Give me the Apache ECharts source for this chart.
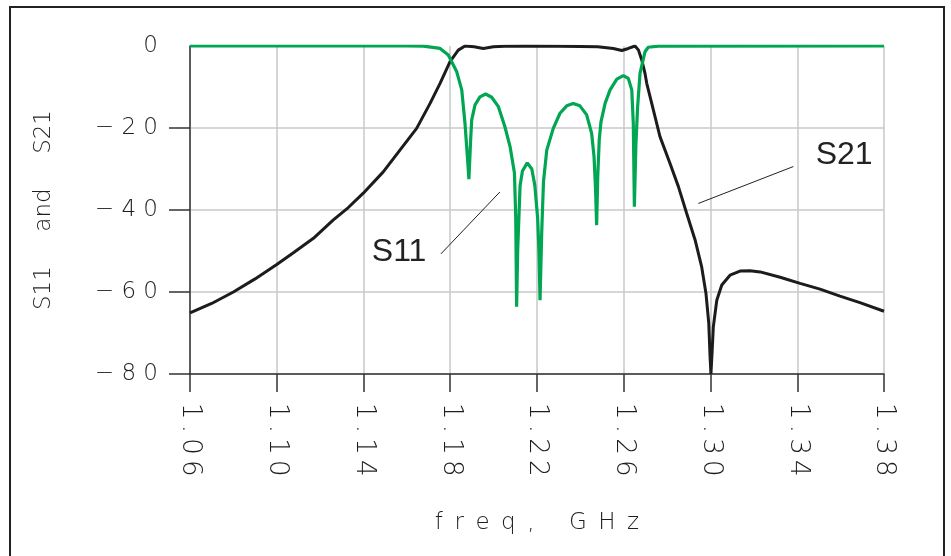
<!DOCTYPE html>
<html>
<head>
<meta charset="utf-8">
<script src="https://cdn.jsdelivr.net/npm/echarts@6/dist/echarts.min.js"></script>
<style>
html,body{margin:0;padding:0;background:#fff;}
#chart{width:951px;height:556px;}
</style>
</head>
<body>
<div id="chart"></div>
<script>
// ---- data ----
const xTicks = [1.06, 1.10, 1.14, 1.18, 1.22, 1.26, 1.30, 1.34, 1.38];
const yTicks = [-80, -60, -40, -20, 0];

const s21Freq = [1.060,1.070,1.080,1.090,1.100,1.108,1.1169,1.1261,1.1330,1.1399,1.1491,1.1568,1.1645,1.1707,1.1753,1.1799,1.1837,1.1868,1.1910,1.1952,1.1999,1.2050,1.2150,1.2300,1.2400,1.2480,1.2552,1.2591,1.2621,1.2652,1.2668,1.2683,1.2698,1.2706,1.2729,1.2767,1.2813,1.2852,1.2890,1.2929,1.2959,1.2979,1.2992,1.2998,1.3002,1.3008,1.3013,1.3029,1.3052,1.3090,1.3136,1.3182,1.3229,1.3321,1.3413,1.3505,1.3597,1.3689,1.3800];
const s21dB   = [-65.1,-62.8,-60.0,-56.8,-53.3,-50.3,-46.9,-42.4,-39.4,-35.9,-30.7,-25.4,-20.1,-14.0,-9.1,-3.8,-1.0,0,-0.2,-0.6,-0.2,-0.05,0,-0.05,-0.1,-0.2,-0.6,-1.1,-0.6,0,-1.0,-3.4,-6.7,-9.1,-14.0,-22.1,-28.6,-34.3,-40.8,-47.3,-53.8,-60.3,-67.6,-75.8,-80,-74,-68.5,-62,-58.3,-55.9,-54.9,-54.8,-55.1,-56.4,-57.9,-59.3,-61.0,-62.6,-64.7];

const s11Freq = [1.060,1.160,1.1676,1.1753,1.1791,1.1830,1.1853,1.1868,1.1879,1.1886,1.1894,1.1899,1.1914,1.1937,1.1963,1.1991,1.2022,1.2052,1.2076,1.2096,1.2102,1.2106,1.2111,1.2122,1.2133,1.2155,1.2176,1.2190,1.2203,1.2209,1.2214,1.2222,1.2230,1.2245,1.2275,1.2306,1.2337,1.2367,1.2398,1.2429,1.2452,1.2463,1.2470,1.2475,1.2480,1.2487,1.2495,1.2514,1.2537,1.2568,1.2598,1.2621,1.2637,1.2644,1.2649,1.2656,1.2664,1.2675,1.2698,1.2713,1.2760,1.3800];
const s11dB   = [0,0,-0.05,-0.6,-2.2,-6.3,-10.7,-18.9,-27,-32.5,-22.9,-18,-14.4,-12.4,-11.7,-12.5,-14.8,-19.7,-24.6,-31,-42,-63.6,-49.8,-34,-30.5,-28.5,-30,-34,-42,-50,-62.0,-45,-33,-25.4,-20.1,-16.4,-14.6,-14.0,-14.6,-16.8,-21.3,-27,-35,-43.7,-32,-22.9,-18.5,-14.0,-10.7,-8.1,-7.2,-7.9,-10.7,-18.9,-39.2,-24,-14.8,-6.7,-1.4,-0.3,-0.05,0];

const labelNames = ['S11', 'S21'];
const labelAt    = [[1.1564, -50.2], [1.3616, -26.6]];
const leaderFrom = [[1.1757, -50.7], [1.2944, -38.4]];
const leaderTo   = [[1.2029, -35.6], [1.3382, -29.4]];

// ---- build ----
const zip = (a, b) => a.map((v, i) => [v, b[i]]);
const spaced = s => s.split('').join(' ');
const FONT = 'DejaVu Sans';
const TXT = '#1e1e1e';
const FW = 200;

const chart = echarts.init(document.getElementById('chart'), null, {renderer: 'canvas'});
chart.setOption({
  animation: false,
  backgroundColor: '#fff',
  graphic: [{
    type: 'rect', shape: {x: 10, y: 7, width: 934, height: 570},
    style: {fill: 'none', stroke: '#222', lineWidth: 2}, silent: true, z: 0
  }],
  grid: {left: 190, right: 67, top: 46, bottom: 182, containLabel: false},
  xAxis: {
    type: 'value', min: 1.06, max: 1.38,
    name: 'f\u2002r\u2002e\u2002q\u2002,\u2002\u2002\u2002G\u2002H\u2002z',
    nameLocation: 'middle', nameGap: 138,
    nameTextStyle: {fontFamily: FONT, fontWeight: FW, fontSize: 23, color: TXT},
    axisLine: {show: true, onZero: false, lineStyle: {color: '#333', width: 1.5}},
    axisTick: {show: true, customValues: xTicks, length: 18, lineStyle: {color: '#333', width: 1.5}},
    axisLabel: {
      customValues: xTicks, rotate: -90, margin: 29,
      fontFamily: FONT, fontWeight: FW, fontSize: 26, color: TXT,
      formatter: v => v.toFixed(2).split('').join('\u2009')
    },
    splitLine: {show: true, lineStyle: {color: '#c8c8c8', width: 1.5}}
  },
  yAxis: {
    type: 'value', min: -80, max: 0, interval: 20,
    name: 'S11\u2003\u2002and\u2003\u2002S21',
    nameLocation: 'middle', nameGap: 134, nameRotate: 90,
    nameTextStyle: {fontFamily: FONT, fontWeight: FW, fontSize: 23, color: TXT},
    axisLine: {show: true, onZero: false, lineStyle: {color: '#333', width: 1.5}},
    axisTick: {show: true, customValues: [-80, -60, -40, -20], length: 21, lineStyle: {color: '#333', width: 1.5}},
    axisLabel: {
      margin: 32, fontFamily: FONT, fontWeight: FW, fontSize: 23, color: TXT,
      formatter: v => v === 0 ? '0' : spaced('\u2212' + Math.abs(v))
    },
    splitLine: {show: true, lineStyle: {color: '#c8c8c8', width: 1.5}}
  },
  series: [
    {
      name: 'S21', type: 'line', data: zip(s21Freq, s21dB),
      showSymbol: false, smooth: false, z: 3,
      lineStyle: {color: '#1c1c1c', width: 3},
      markLine: {
        silent: true, symbol: ['none', 'none'],
        lineStyle: {color: '#222', width: 1, type: 'solid'},
        label: {show: false},
        data: leaderFrom.map((p, i) => [{coord: p}, {coord: leaderTo[i]}])
      },
      markPoint: {
        silent: true, symbol: 'circle', symbolSize: 0,
        label: {show: true, position: 'inside', fontFamily: 'Liberation Sans', fontSize: 32, color: '#222', formatter: p => p.name},
        data: labelNames.map((n, i) => ({name: n, coord: labelAt[i]}))
      }
    },
    {
      name: 'S11', type: 'line', data: zip(s11Freq, s11dB),
      showSymbol: false, smooth: false, z: 4,
      lineStyle: {color: '#00a651', width: 3.2}
    }
  ]
});
</script>
</body>
</html>
